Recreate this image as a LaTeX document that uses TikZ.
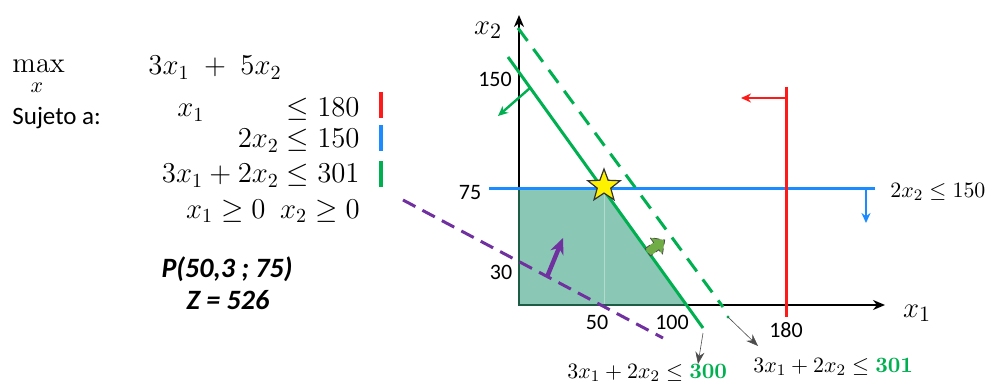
\documentclass[tikz,border=0pt]{standalone}
\usepackage[no-math]{fontspec}
\setmainfont{Carlito}
\usetikzlibrary{arrows.meta,shapes.geometric}
\definecolor{cred}{HTML}{FF1A1A}
\definecolor{cblue}{HTML}{1A8CFF}
\definecolor{cgreen}{HTML}{00B050}
\definecolor{cpurple}{HTML}{7030A0}
\definecolor{cfill}{HTML}{8AC7B4}
\definecolor{cedge}{HTML}{1F5C45}
\definecolor{clight}{HTML}{70AD47}
\begin{document}
\begin{tikzpicture}[x=0.5pt,y=-0.5pt,
  big/.style={font=\fontsize{14.5}{17}\selectfont, inner sep=0pt},
  sans/.style={font=\fontsize{12.5}{15}\selectfont, inner sep=0pt},
  tick/.style={font=\fontsize{11}{13}\selectfont, inner sep=0pt},
  small/.style={font=\fontsize{11}{13}\selectfont, inner sep=0pt},
  res/.style={font=\fontsize{14}{16}\selectfont\bfseries\itshape, inner sep=0pt},
  axislbl/.style={font=\fontsize{15.5}{17}\selectfont, inner sep=0pt},
  bar/.style={line width=1.6pt},
  axisline/.style={line width=1.1pt, -{Stealth[length=6pt,width=5pt]}},
  cline/.style={line width=1.5pt},
  carrow/.style={line width=1.2pt, -{Stealth[length=5pt,width=4.5pt]}},
  thinarrow/.style={line width=0.3pt, draw=black!70, -{Stealth[length=6pt,width=4.5pt]}}]
\useasboundingbox (0,0) rectangle (990,390);

% ---------- left text ----------
\node[big, anchor=base west] (max) at (12,73) {$\mathrm{max}$};
\node[font=\fontsize{10.5}{12}\selectfont, inner sep=0pt, anchor=base] (maxsub) at (37,93) {$x$};
\node[big, anchor=base west] (obj) at (148,75) {$3x_1\enspace{+}\enspace5x_2$};
\node[sans, anchor=west] (suj) at (12,118) {Sujeto a:};
\node[big, anchor=base west] (c1a) at (177,117) {$x_1$};
\node[big, anchor=base east] (c1b) at (360,117) {$\le 180$};
\node[big, anchor=base east] (c2) at (360,148) {$2x_2 \le 150$};
\node[big, anchor=base east] (c3) at (360,183) {$3x_1 + 2x_2 \le 301$};
\node[big, anchor=base east] (c4) at (360,218) {$x_1 \ge 0\enspace x_2 \ge 0$};
\draw[bar, cred] (381,92) -- (381,118);
\draw[bar, cblue] (381,125) -- (381,151);
\draw[bar, cgreen] (381,161) -- (381,187);
\node[res] (pt) at (227,269) {P(50,3 ; 75)};
\node[res] (zv) at (228,300) {Z = 526};

% ---------- graph ----------
\coordinate (O) at (519,305);
\coordinate (Ytop) at (519,15);
\coordinate (Xend) at (885,305);
\draw[axisline] (O) -- (Ytop);
\draw[axisline] (O) -- (Xend);

% feasible region
\coordinate (R1) at (519,188);
\coordinate (R2) at (604,188);
\coordinate (R3) at (687,305);
\fill[cfill] (O) -- (R1) -- (R2) -- (R3) -- cycle;
\draw[white, opacity=0.35, line width=0.5pt] (604,188) -- (604,305);
\draw[cedge, line width=1.3pt] (R1) -- (O) -- (R3);

% purple objective line
\coordinate (P1) at (403,200);
\coordinate (P2) at (663,338);
\draw[cpurple, line width=1.5pt, dash pattern=on 7pt off 4pt] (P1) -- (P2);
\coordinate (PA1) at (547,277);
\coordinate (PA2) at (563,238);
\draw[cpurple, line width=2.2pt, -{Stealth[length=8pt,width=7pt]}] (PA1) -- (PA2);

% blue constraint
\coordinate (B1) at (489,188);
\coordinate (B2) at (875,188);
\draw[cblue, cline] (B1) -- (B2);
\coordinate (BA1) at (866,188);
\coordinate (BA2) at (866,223);
\draw[cblue, carrow] (BA1) -- (BA2);

% red constraint
\coordinate (Rd1) at (786,87);
\coordinate (Rd2) at (786,317);
\draw[cred, cline] (Rd1) -- (Rd2);
\coordinate (RA1) at (786,98);
\coordinate (RA2) at (741,98);
\draw[cred, carrow] (RA1) -- (RA2);

% green constraint (solid)
\coordinate (G1) at (508,57);
\coordinate (G2) at (703,328);
\draw[cgreen, cline] (G1) -- (G2);
\coordinate (GA1) at (530,88);
\coordinate (GA2) at (498,116);
\draw[cgreen, carrow] (GA1) -- (GA2);

% green constraint (dashed)
\coordinate (D1) at (518,28);
\coordinate (D2) at (723,307);
\draw[cgreen, cline, dash pattern=on 8pt off 5pt] (D1) -- (D2);

% small shift arrow
\begin{scope}[shift={(655,247)}, rotate=36, scale=1.5]
\filldraw[fill=clight, draw=black!70, line width=0.4pt, densely dashed]
  (-6,-3) -- (1,-3) -- (1,-7) -- (8,0) -- (1,7) -- (1,3) -- (-6,3) -- cycle;
\end{scope}

% star
\node[star, star points=5, star point ratio=2.4, minimum size=17pt, inner sep=0pt,
      fill=yellow, draw=black!80, line width=0.6pt] (opt) at (604,186) {};

% callout arrows
\coordinate (T1s) at (703,333);
\coordinate (T1e) at (698,364);
\draw[thinarrow] (T1s) -- (T1e);
\coordinate (T2s) at (728,317);
\fill[cgreen] (T2s) circle (0.8pt);
\coordinate (T2e) at (758,346);
\draw[thinarrow] (T2s) -- (T2e);

% tick labels
\node[tick] (l150) at (495,79) {150};
\node[tick] (l75) at (470,193) {75};
\node[tick] (l30) at (501,272) {30};
\node[tick] (l50) at (597,322) {50};
\node[tick] (l100) at (672,322) {100};
\node[tick] (l180) at (786,330) {180};
\node[axislbl] (x2l) at (488,30) {$x_2$};
\node[axislbl] (x1l) at (917,313) {$x_1$};

% constraint labels
\node[small, anchor=west] (lb) at (890,192) {$2x_2 \le 150$};
\node[small, anchor=west] (l300) at (567,373) {$3x_1 + 2x_2 \le \mathbf{\color{cgreen}300}$};
\node[small, anchor=west] (l301) at (753,367) {$3x_1 + 2x_2 \le \mathbf{\color{cgreen}301}$};
\end{tikzpicture}
\end{document}
